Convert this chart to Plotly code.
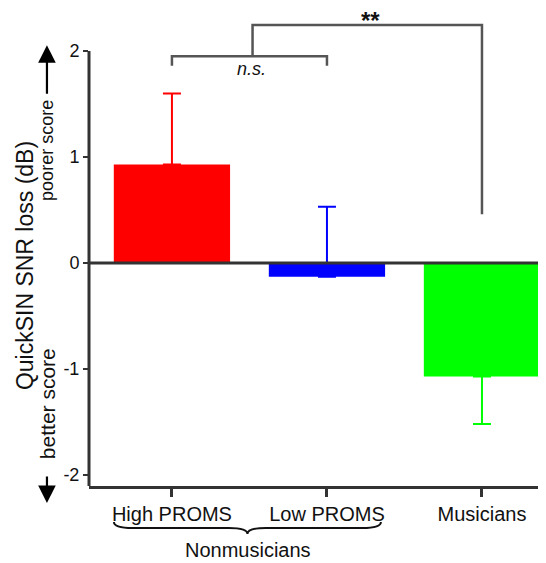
import plotly.graph_objects as go

# ---- data ----
categories = ["High PROMS", "Low PROMS", "Musicians"]
x_pos = [0, 1, 2]
means = [0.93, -0.13, -1.07]
err_plus = [0.67, 0.66, 0.0]
err_minus = [0.0, 0.0, 0.45]
bar_colors = ["#FF0000", "#0000FF", "#00FF00"]
y_tick_vals = [-2, -1, 0, 1, 2]
y_tick_text = ["-2", "-1", "0", "1", "2"]
group_label = "Nonmusicians"
y_title = "QuickSIN SNR loss (dB)"

# significance brackets (data units)
ns_x = [0, 1]
ns_y = 1.95
ns_drop = 1.86
sig_x = [0.52, 2]
sig_y = 2.245
sig_end = 0.46

Y_MIN, Y_MAX = -2.104, 2.387
X_MIN, X_MAX = -0.535, 2.413

FONT = "Liberation Sans, Arial, sans-serif"
AX = "#333333"
BR = "#555555"

fig = go.Figure()
for i in range(3):
    fig.add_trace(go.Bar(
        x=[x_pos[i]], y=[means[i]], width=0.75,
        marker=dict(color=bar_colors[i], line=dict(width=0)),
        error_y=dict(type="data", symmetric=False, array=[err_plus[i]],
                     arrayminus=[err_minus[i]], color=bar_colors[i],
                     thickness=2, width=9),
        showlegend=False, hoverinfo="skip"))

shapes = []
# y axis line (from bottom up to 2)
shapes.append(dict(type="line", xref="paper", yref="y", x0=0, x1=0,
                   y0=Y_MIN, y1=2, line=dict(color=AX, width=3), layer="above"))
# zero line
shapes.append(dict(type="line", xref="paper", yref="y", x0=0, x1=1,
                   y0=0, y1=0, line=dict(color=AX, width=3), layer="above"))
# n.s. bracket
shapes.append(dict(type="path", xref="x", yref="y",
                   path=f"M {ns_x[0]},{ns_drop} L {ns_x[0]},{ns_y} L {ns_x[1]},{ns_y} L {ns_x[1]},{ns_drop}",
                   line=dict(color=BR, width=2.5)))
# ** bracket
shapes.append(dict(type="path", xref="x", yref="y",
                   path=f"M {sig_x[0]},{ns_y} L {sig_x[0]},{sig_y} L {sig_x[1]},{sig_y} L {sig_x[1]},{sig_end}",
                   line=dict(color=BR, width=2.5)))

# brace under the nonmusician labels (x in data, y in paper)
bx0, bx1, bxc = -0.374, 1.348, 0.487
ye, yh, yt = -0.0756, -0.0882, -0.1008
d = 0.12
brace = (f"M {bx0},{ye} Q {bx0},{yh} {bx0+d},{yh} L {bxc-d},{yh} "
         f"Q {bxc},{yh} {bxc},{yt} Q {bxc},{yh} {bxc+d},{yh} "
         f"L {bx1-d},{yh} Q {bx1},{yh} {bx1},{ye}")
shapes.append(dict(type="path", xref="x", yref="paper", path=brace,
                   line=dict(color="#111111", width=2)))

annotations = [
    dict(text="<i>n.s.</i>", x=0.51, y=1.83, xref="x", yref="y", showarrow=False,
         font=dict(family=FONT, size=18, color="#111"), xanchor="center", yanchor="middle"),
    dict(text="<b>**</b>", x=1.284, y=sig_y, xref="x", yref="y", showarrow=False,
         font=dict(family=FONT, size=24, color="#111"), xanchor="center", yanchor="middle",
         yshift=5),
    dict(text=group_label, x=0.49, y=-0.135, xref="x", yref="paper", showarrow=False,
         font=dict(family=FONT, size=20, color="#111"), xanchor="center", yanchor="middle"),
    dict(text=y_title, x=-0.140, y=0.462, xref="paper", yref="paper", showarrow=False,
         textangle=-90, font=dict(family=FONT, size=23, color="#111"),
         xanchor="center", yanchor="middle"),
    dict(text="poorer score", x=-0.092, y=0.706, xref="paper", yref="paper", showarrow=False,
         textangle=-90, font=dict(family=FONT, size=18, color="#111"),
         xanchor="center", yanchor="middle"),
    dict(text="better score", x=-0.092, y=0.174, xref="paper", yref="paper", showarrow=False,
         textangle=-90, font=dict(family=FONT, size=21, color="#111"),
         xanchor="center", yanchor="middle"),
    # arrows
    dict(text="", x=-0.092, y=0.926, xref="paper", yref="paper", showarrow=True,
         ax=0, ay=50, arrowhead=2, arrowsize=1.6, arrowwidth=2.2, arrowcolor="#000"),
    dict(text="", x=-0.092, y=-0.0357, xref="paper", yref="paper", showarrow=True,
         ax=0, ay=-28, arrowhead=2, arrowsize=1.6, arrowwidth=2.2, arrowcolor="#000"),
]

fig.update_layout(
    width=538, height=555,
    margin=dict(l=81, r=0, t=2, b=77, pad=0),
    plot_bgcolor="white", paper_bgcolor="white",
    font=dict(family=FONT, size=18, color="#111"),
    bargap=0.25,
    shapes=shapes, annotations=annotations,
    xaxis=dict(range=[X_MIN, X_MAX], tickvals=x_pos, ticktext=categories,
               showgrid=False, zeroline=False, showline=True, linecolor=AX, linewidth=3,
               ticks="outside", ticklen=8, tickwidth=2.5, tickcolor=AX,
               tickfont=dict(family=FONT, size=20, color="#111")),
    yaxis=dict(range=[Y_MIN, Y_MAX], tickvals=y_tick_vals, ticktext=y_tick_text,
               showgrid=False, zeroline=False, showline=False,
               ticks="outside", ticklen=5, tickwidth=2, tickcolor=AX,
               tickfont=dict(family=FONT, size=18, color="#111")),
)

fig.write_html("out.html")
